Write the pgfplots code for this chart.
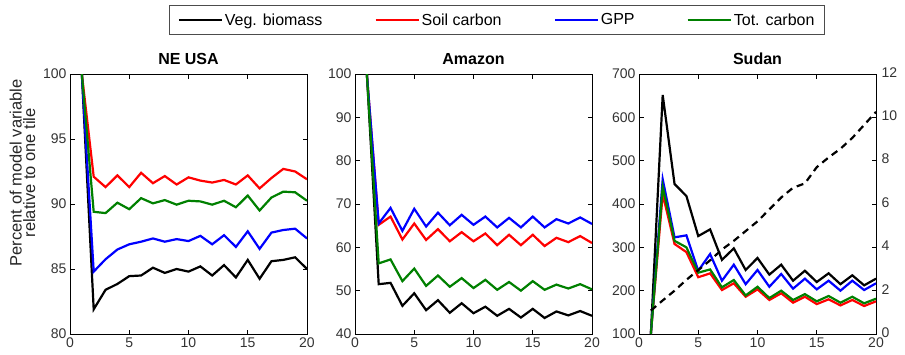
\documentclass[border=0pt]{standalone}
\usepackage{fontspec}
\setmainfont{Liberation Sans}
\usepackage{pgfplots}
\pgfplotsset{compat=1.18}
\definecolor{mgreen}{rgb}{0,0.5,0}
\pgfplotsset{
  panel/.style={
    width=237pt, height=260pt, scale only axis,
    xmin=0, xmax=20, xtick={0,5,10,15,20},
    tick align=inside, major tick length=4.5pt,
    /pgf/number format/assume math mode=true,
    tick label style={font=\fontsize{14}{15}\selectfont, color=black!80},
    title style={font=\bfseries\fontsize{16}{18}\selectfont},
    axis line style={black, line width=0.8pt},
    every tick/.style={black, line width=0.6pt},
    every axis plot/.append style={line width=2.2pt, line join=miter},
    anchor=south west,
  },
}
\begin{document}
\begin{tikzpicture}
\path[use as bounding box] (0pt,0pt) rectangle (905pt,354pt);
% ---------------- NE USA
\begin{axis}[panel, at={(70pt,20pt)}, title={NE USA},
  ymin=80, ymax=100, ytick={80,85,90,95,100},
  ylabel={Percent of model variable\\relative to one tile},
  ylabel style={align=center, font=\fontsize{16.5}{13.5}\selectfont, color=black!85, at={(ticklabel cs:0.62)}, yshift=1pt},
  legend columns=4,
  legend image code/.code={\draw[#1] (0pt,0pt) -- (27pt,0pt); \path (27pt,0pt) -- (43pt,0pt);},
  legend style={at={(1.802,1.2077)}, anchor=center, draw=black!70, line width=0.8pt,
    font=\fontsize{16}{18}\selectfont, inner xsep=8pt, inner ysep=6pt,
    /tikz/every even column/.append style={column sep=50pt}},
]
\addplot[black] coordinates {(1,100)(2,81.9)(3,83.4)(4,83.85)(5,84.45)(6,84.5)(7,85.1)(8,84.7)(9,85.0)(10,84.8)(11,85.2)(12,84.5)(13,85.3)(14,84.35)(15,85.7)(16,84.25)(17,85.6)(18,85.7)(19,85.9)(20,85.0)};
\addplot[red] coordinates {(1,100)(2,92.1)(3,91.3)(4,92.2)(5,91.3)(6,92.4)(7,91.6)(8,92.15)(9,91.5)(10,92.05)(11,91.8)(12,91.65)(13,91.85)(14,91.5)(15,92.2)(16,91.2)(17,92.0)(18,92.7)(19,92.5)(20,91.9)};
\addplot[blue] coordinates {(1,100)(2,84.8)(3,85.75)(4,86.5)(5,86.9)(6,87.1)(7,87.35)(8,87.1)(9,87.3)(10,87.15)(11,87.55)(12,86.9)(13,87.6)(14,86.7)(15,87.9)(16,86.55)(17,87.8)(18,88.0)(19,88.1)(20,87.35)};
\addplot[mgreen] coordinates {(1,100)(2,89.4)(3,89.3)(4,90.1)(5,89.6)(6,90.45)(7,90.05)(8,90.3)(9,89.95)(10,90.25)(11,90.2)(12,89.95)(13,90.25)(14,89.75)(15,90.65)(16,89.5)(17,90.5)(18,90.95)(19,90.9)(20,90.25)};
\legend{Veg. biomass, Soil carbon, GPP, Tot. carbon}
\end{axis}
% ---------------- Amazon
\begin{axis}[panel, at={(355pt,20pt)}, title={Amazon},
  ymin=40, ymax=100, ytick={40,50,...,100}]
\addplot[black] coordinates {(1,100)(2,51.5)(3,51.8)(4,46.5)(5,49.4)(6,45.5)(7,47.8)(8,44.9)(9,47.1)(10,44.8)(11,46.3)(12,44.2)(13,45.8)(14,43.8)(15,45.8)(16,43.7)(17,45.2)(18,44.3)(19,45.3)(20,44.2)};
\addplot[red] coordinates {(1,100)(2,65.2)(3,67.1)(4,61.8)(5,65.5)(6,61.7)(7,64.2)(8,61.4)(9,63.5)(10,61.4)(11,63.2)(12,60.5)(13,62.9)(14,60.5)(15,62.9)(16,60.3)(17,62.2)(18,61.2)(19,62.6)(20,61.0)};
\addplot[blue] coordinates {(1,100)(2,65.5)(3,69.1)(4,63.8)(5,68.9)(6,64.8)(7,68.0)(8,65.1)(9,67.5)(10,65.2)(11,67.1)(12,64.6)(13,66.8)(14,64.6)(15,67.1)(16,64.6)(17,66.5)(18,65.5)(19,66.9)(20,65.4)};
\addplot[mgreen] coordinates {(1,100)(2,56.3)(3,57.2)(4,52.2)(5,55.1)(6,51.1)(7,53.5)(8,50.9)(9,52.9)(10,50.6)(11,52.5)(12,50.2)(13,52.0)(14,50.0)(15,52.2)(16,50.2)(17,51.4)(18,50.5)(19,51.5)(20,50.3)};
\end{axis}
% ---------------- Sudan
\begin{axis}[panel, at={(639pt,20pt)}, title={Sudan},
  ymin=100, ymax=700, ytick={100,200,...,700}, ytick pos=left]
\addplot[black] coordinates {(1,100)(2,651.5)(3,446)(4,418.5)(5,326)(6,341.5)(7,271)(8,297.7)(9,247.7)(10,275.4)(11,237)(12,260)(13,223)(14,246)(15,220)(16,240)(17,215)(18,235.4)(19,212.3)(20,227.7)};
\addplot[red] coordinates {(1,100)(2,423)(3,307.7)(4,289)(5,231)(6,240)(7,201.5)(8,217)(9,186)(10,203)(11,178.5)(12,194)(13,172.3)(14,186)(15,169)(16,180)(17,166)(18,178.5)(19,164.6)(20,175.4)};
\addplot[blue] coordinates {(1,100)(2,457)(3,323)(4,327.7)(5,246)(6,284.6)(7,223)(8,260)(9,215)(10,247.7)(11,209)(12,238.5)(13,204.6)(14,227.7)(15,203)(16,223)(17,200)(18,223)(19,201.5)(20,217)};
\addplot[mgreen] coordinates {(1,100)(2,440)(3,315)(4,300)(5,241.5)(6,249)(7,207.7)(8,224.6)(9,189)(10,209)(11,183)(12,200)(13,178.5)(14,192)(15,175.4)(16,187.7)(17,172.3)(18,186)(19,170.8)(20,181.5)};
\end{axis}
\begin{axis}[panel, at={(639pt,20pt)},
  ymin=0, ymax=12, ytick={0,2,...,12}, ytick pos=right, yticklabel pos=right,
  yticklabel style={yshift=1.5pt, xshift=2pt},
  xtick=\empty, axis line style={draw=none}]
\addplot[black, dash pattern=on 7pt off 5pt] coordinates {(1,1.08)(2,1.55)(3,2.0)(4,2.5)(5,2.95)(6,3.4)(7,3.9)(8,4.3)(9,4.75)(10,5.2)(11,5.75)(12,6.3)(13,6.75)(14,6.95)(15,7.7)(16,8.15)(17,8.55)(18,9.05)(19,9.65)(20,10.25)};
\end{axis}
\end{tikzpicture}
\end{document}
